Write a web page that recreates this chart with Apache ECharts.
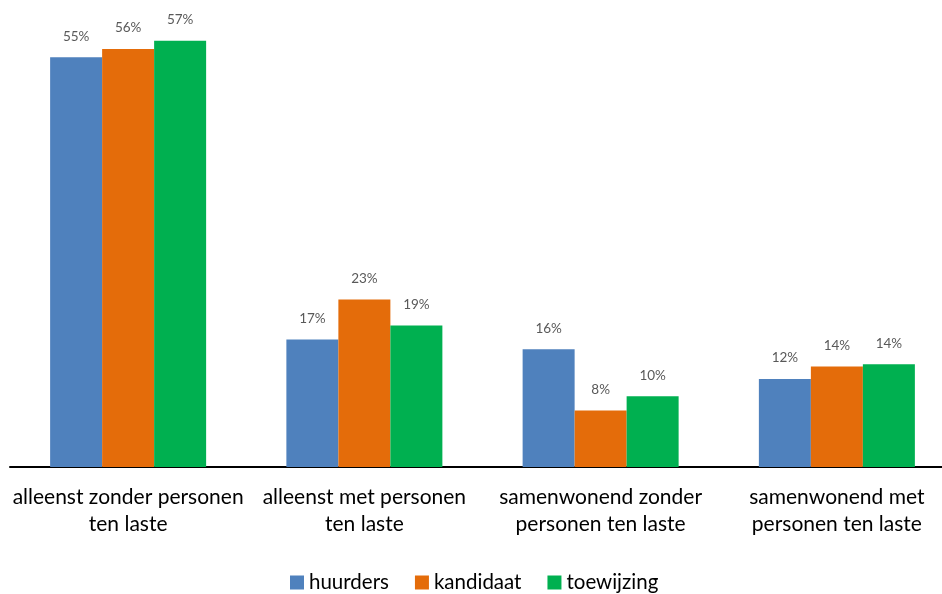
<!DOCTYPE html>
<html>
<head>
<meta charset="utf-8">
<title>huishoudtype</title>
<script src="https://cdn.jsdelivr.net/npm/echarts@6/dist/echarts.min.js"></script>
<style>
  html, body { margin: 0; padding: 0; background: #fff; overflow: hidden; }
  #main { width: 955px; height: 594px; }
</style>
</head>
<body>
<div id="main"></div>
<script>
// categorieën (regeleinde zoals in origineel)
var categories = [
    'alleenst zonder personen\nten laste',
    'alleenst met personen\nten laste',
    'samenwonend zonder\npersonen ten laste',
    'samenwonend met\npersonen ten laste'
];
var huurders   = [55.0, 17.1, 15.8, 11.8];
var kandidaat  = [56.1, 22.5, 7.6, 13.5];
var toewijzing = [57.2, 19.0, 9.5, 13.8];

var seriesNames  = ['huurders', 'kandidaat', 'toewijzing'];
var seriesColors = ['#4F81BD', '#E46C0A', '#00B050'];

var font = 'Lato, "Open Sans", sans-serif';

// de grafiek loopt rechts iets buiten beeld, daarom is de div breder dan het venster
var myChart = echarts.init(document.getElementById('main'));

function makeSeries(name, data, color) {
    return {
        name: name,
        type: 'bar',
        data: data,
        barWidth: 52,
        barGap: '0%',
        itemStyle: { color: color },
        label: {
            show: true,
            position: 'top',
            distance: 14,
            color: '#595959',
            fontSize: 13.5,
            fontFamily: font,
            formatter: function (p) { return Math.round(p.value) + '%'; }
        }
    };
}

var option = {
    animation: false,
    textStyle: { fontFamily: font },
    grid: { left: 10, top: 20, right: 0, bottom: 127, containLabel: false },
    legend: {
        data: seriesNames,
        top: 567,
        left: 285,
        icon: 'rect',
        itemWidth: 14,
        itemHeight: 14,
        itemGap: 26,
        textStyle: { fontSize: 20.5, color: '#000', fontFamily: font }
    },
    xAxis: {
        type: 'category',
        data: categories,
        axisLine: { lineStyle: { color: '#000', width: 2 } },
        axisTick: { show: false },
        axisLabel: {
            color: '#000',
            fontSize: 21,
            lineHeight: 27,
            margin: 17,
            fontFamily: font,
            interval: 0
        }
    },
    yAxis: {
        type: 'value',
        min: 0,
        max: 60,
        show: false,
        splitLine: { show: false }
    },
    series: [
        makeSeries(seriesNames[0], huurders, seriesColors[0]),
        makeSeries(seriesNames[1], kandidaat, seriesColors[1]),
        makeSeries(seriesNames[2], toewijzing, seriesColors[2])
    ]
};

myChart.setOption(option);
</script>
</body>
</html>
